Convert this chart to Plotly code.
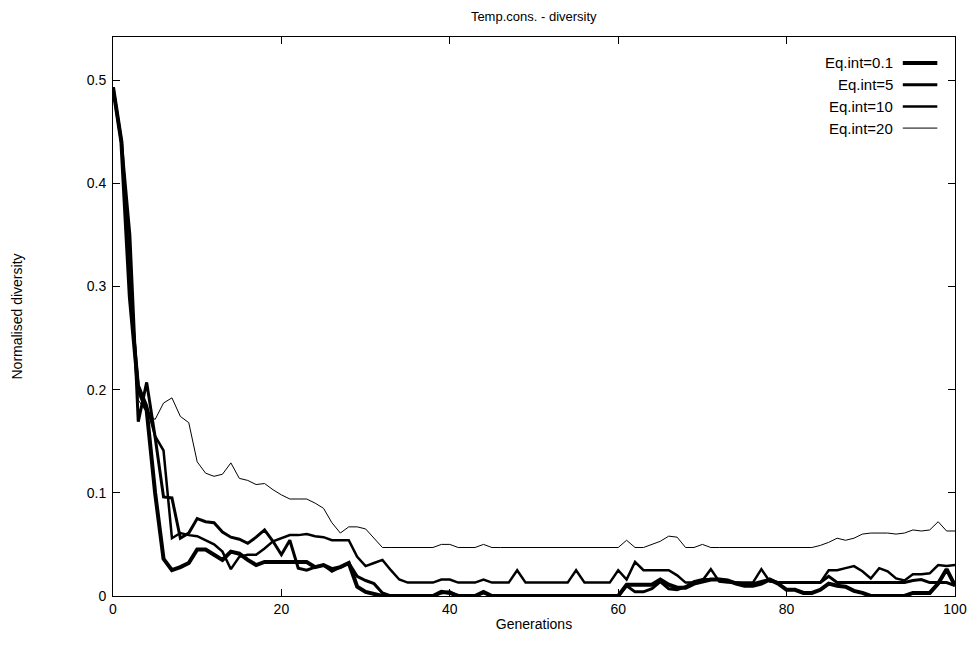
import plotly.graph_objects as go

generations = list(range(0, 101))

eq_0_1 = [
    0.493, 0.440, 0.290, 0.200, 0.180, 0.100, 0.036, 0.025, 0.028, 0.032,
    0.045, 0.045, 0.040, 0.035, 0.043, 0.041, 0.035, 0.030, 0.033, 0.033,
    0.033, 0.033, 0.033, 0.033, 0.028, 0.030, 0.026, 0.028, 0.032, 0.009,
    0.004, 0.002, 0.000, 0.000, 0.000, 0.000, 0.000, 0.000, 0.000, 0.004,
    0.003, 0.000, 0.000, 0.000, 0.004, 0.000, 0.000, 0.000, 0.000, 0.000,
    0.000, 0.000, 0.000, 0.000, 0.000, 0.000, 0.000, 0.000, 0.000, 0.000,
    0.000, 0.011, 0.011, 0.011, 0.011, 0.016, 0.011, 0.008, 0.008, 0.012,
    0.014, 0.016, 0.016, 0.015, 0.012, 0.010, 0.010, 0.012, 0.016, 0.012,
    0.006, 0.006, 0.003, 0.003, 0.006, 0.012, 0.010, 0.009, 0.005, 0.003,
    0.000, 0.000, 0.000, 0.000, 0.000, 0.003, 0.003, 0.003, 0.012, 0.026,
    0.010,
]

eq_5 = [
    0.493, 0.440, 0.350, 0.169, 0.207, 0.154, 0.096, 0.095, 0.056, 0.061,
    0.075, 0.072, 0.071, 0.062, 0.057, 0.055, 0.051, 0.057, 0.064, 0.053,
    0.040, 0.054, 0.027, 0.025, 0.028, 0.030, 0.024, 0.028, 0.032, 0.019,
    0.015, 0.012, 0.003, 0.000, 0.000, 0.000, 0.000, 0.000, 0.000, 0.003,
    0.004, 0.000, 0.000, 0.000, 0.003, 0.000, 0.000, 0.000, 0.000, 0.000,
    0.000, 0.000, 0.000, 0.000, 0.000, 0.000, 0.000, 0.000, 0.000, 0.000,
    0.000, 0.010, 0.004, 0.004, 0.007, 0.014, 0.007, 0.006, 0.009, 0.014,
    0.016, 0.016, 0.016, 0.014, 0.013, 0.012, 0.012, 0.014, 0.016, 0.013,
    0.013, 0.013, 0.013, 0.013, 0.013, 0.019, 0.013, 0.013, 0.013, 0.013,
    0.013, 0.013, 0.013, 0.013, 0.013, 0.015, 0.016, 0.013, 0.013, 0.013,
    0.010,
]

eq_10 = [
    0.493, 0.440, 0.300, 0.205, 0.185, 0.155, 0.141, 0.056, 0.061, 0.059,
    0.058, 0.054, 0.050, 0.043, 0.026, 0.038, 0.040, 0.040, 0.046, 0.053,
    0.056, 0.059, 0.059, 0.060, 0.058, 0.057, 0.054, 0.054, 0.054, 0.038,
    0.029, 0.032, 0.035, 0.025, 0.016, 0.013, 0.013, 0.013, 0.013, 0.016,
    0.016, 0.013, 0.013, 0.013, 0.016, 0.013, 0.013, 0.013, 0.025, 0.013,
    0.013, 0.013, 0.013, 0.013, 0.013, 0.025, 0.013, 0.013, 0.013, 0.013,
    0.025, 0.016, 0.033, 0.025, 0.025, 0.025, 0.025, 0.020, 0.013, 0.013,
    0.015, 0.026, 0.014, 0.013, 0.013, 0.013, 0.013, 0.026, 0.014, 0.013,
    0.013, 0.013, 0.013, 0.013, 0.013, 0.025, 0.025, 0.027, 0.029, 0.024,
    0.017, 0.027, 0.024, 0.017, 0.015, 0.021, 0.021, 0.022, 0.030, 0.029,
    0.030,
]

eq_20 = [
    0.493, 0.440, 0.330, 0.190, 0.178, 0.171, 0.187, 0.192, 0.174, 0.168,
    0.130, 0.119, 0.116, 0.118, 0.129, 0.114, 0.112, 0.108, 0.109, 0.103,
    0.098, 0.094, 0.094, 0.094, 0.090, 0.085, 0.071, 0.061, 0.067, 0.067,
    0.065, 0.056, 0.047, 0.047, 0.047, 0.047, 0.047, 0.047, 0.047, 0.050,
    0.050, 0.047, 0.047, 0.047, 0.050, 0.047, 0.047, 0.047, 0.047, 0.047,
    0.047, 0.047, 0.047, 0.047, 0.047, 0.047, 0.047, 0.047, 0.047, 0.047,
    0.047, 0.054, 0.047, 0.047, 0.050, 0.053, 0.058, 0.057, 0.047, 0.047,
    0.050, 0.047, 0.047, 0.047, 0.047, 0.047, 0.047, 0.047, 0.047, 0.047,
    0.047, 0.047, 0.047, 0.047, 0.049, 0.052, 0.056, 0.054, 0.056, 0.060,
    0.061, 0.061, 0.061, 0.060, 0.061, 0.064, 0.063, 0.064, 0.072, 0.063,
    0.063,
]

series_names = ["Eq.int=0.1", "Eq.int=5", "Eq.int=10", "Eq.int=20"]
series_values = [eq_0_1, eq_5, eq_10, eq_20]
line_widths = [4, 3, 2.5, 1]

x_ticks = [0, 20, 40, 60, 80, 100]
y_ticks = [0, 0.1, 0.2, 0.3, 0.4, 0.5]
y_tick_labels = ["0", "0.1", "0.2", "0.3", "0.4", "0.5"]

FONT = "Liberation Sans, Arial, sans-serif"
FS = 14

fig = go.Figure()
for name, vals, lw in zip(series_names, series_values, line_widths):
    fig.add_trace(go.Scatter(
        x=generations, y=vals, mode="lines", name=name,
        line=dict(color="black", width=lw), showlegend=False,
    ))

# gnuplot-style key: text right-aligned, sample line to its right
key_text_x = 0.9287
key_line_x0 = 0.938
key_line_x1 = 0.979
key_top = 0.9535
key_step = 21.7 / 559
for i, (name, lw) in enumerate(zip(series_names, line_widths)):
    ky = key_top - i * key_step
    fig.add_annotation(
        x=key_text_x, y=ky, xref="paper", yref="paper",
        text=name, showarrow=False, xanchor="right", yanchor="middle",
        font=dict(family=FONT, size=15, color="black"),
    )
    fig.add_shape(
        type="line", xref="paper", yref="paper",
        x0=key_line_x0, x1=key_line_x1, y0=ky, y1=ky,
        line=dict(color="black", width=lw),
    )

axis_common = dict(
    showline=True, linecolor="black", linewidth=1, mirror="ticks",
    ticks="inside", ticklen=7, tickcolor="black", tickwidth=1,
    showgrid=False, zeroline=False,
    tickfont=dict(family=FONT, size=FS, color="black"),
)

fig.update_layout(
    width=970, height=647,
    margin=dict(l=105, r=23, t=29, b=59, autoexpand=False),
    paper_bgcolor="white", plot_bgcolor="white",
    title=dict(text="Temp.cons. - diversity", x=0.542, xanchor="center",
               y=1 - 8.5 / 647, yanchor="middle",
               font=dict(family=FONT, size=13, color="black")),
    xaxis=dict(axis_common, range=[0, 100], tickvals=x_ticks,
               title=dict(text="Generations", standoff=3,
                          font=dict(family=FONT, size=FS, color="black"))),
    yaxis=dict(axis_common, range=[0, 0.5417], tickvals=y_ticks,
               ticktext=y_tick_labels, ticklabelstandoff=3,
               title=dict(text="Normalised diversity", standoff=60,
                          font=dict(family=FONT, size=FS, color="black"))),
)

fig.write_html("out.html")
